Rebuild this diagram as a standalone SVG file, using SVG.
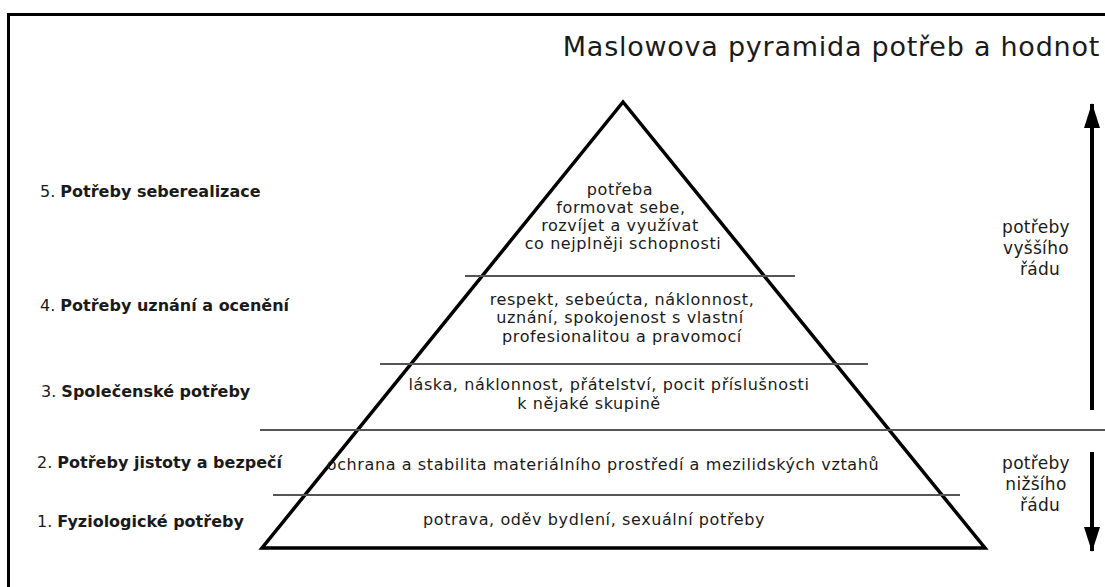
<svg xmlns="http://www.w3.org/2000/svg" width="1105" height="587" viewBox="0 0 1105 587">
<style>
.t{font-family:"DejaVu Sans","Verdana",sans-serif;fill:#1a1a1a}
.lvl{font-size:16px;text-anchor:middle;letter-spacing:0.6px}
.lab{font-size:16px}
.lab .b{font-weight:bold}
.side{font-size:17px;text-anchor:middle;letter-spacing:0.3px}
.sep{stroke:#555;stroke-width:2}
</style>
<defs>
<marker id="ah" viewBox="0 0 25 16" refX="24" refY="8" markerWidth="25" markerHeight="16" markerUnits="userSpaceOnUse" orient="auto">
<path d="M0,0 L25,8 L0,16 Z" fill="#000"/>
</marker>
</defs>
<rect x="0" y="0" width="1105" height="587" fill="#fff"/>
<rect id="frame" x="8.5" y="14.5" width="1120" height="600" fill="none" stroke="#000" stroke-width="3"/>
<text id="title" class="t" x="1100" y="56" font-size="27" text-anchor="end" letter-spacing="0.75">Maslowova pyramida potřeb a hodnot</text>

<g id="pyramid">
<polygon points="623,102 262,548 985,548" fill="none" stroke="#000" stroke-width="3.5" stroke-linejoin="miter"/>
</g>

<g id="separators">
<line class="sep" x1="465" y1="276" x2="795" y2="276"/>
<line class="sep" x1="380" y1="364" x2="868" y2="364"/>
<line class="sep" x1="260" y1="430" x2="1105" y2="430"/>
<line class="sep" x1="273" y1="495" x2="960" y2="495"/>
</g>

<g id="level5">
<text class="t lvl" x="620" y="195">potřeba</text>
<text class="t lvl" x="621" y="213">formovat sebe,</text>
<text class="t lvl" x="620" y="231">rozvíjet a využívat</text>
<text class="t lvl" x="623" y="249">co nejplněji schopnosti</text>
<text class="t lab" x="40" y="197">5. <tspan class="b">Potřeby seberealizace</tspan></text>
</g>
<g id="level4">
<text class="t lvl" x="622" y="305">respekt, sebeúcta,  náklonnost,</text>
<text class="t lvl" x="620" y="323">uznání, spokojenost s vlastní</text>
<text class="t lvl" x="622" y="342">profesionalitou a pravomocí</text>
<text class="t lab" x="40" y="311">4. <tspan class="b">Potřeby uznání a ocenění</tspan></text>
</g>
<g id="level3">
<text class="t lvl" x="609" y="390">láska, náklonnost, přátelství, pocit příslušnosti</text>
<text class="t lvl" x="589" y="409">k nějaké skupině</text>
<text class="t lab" x="41" y="397">3. <tspan class="b">Společenské potřeby</tspan></text>
</g>
<g id="level2">
<text class="t lvl" x="603" y="470">ochrana a stabilita materiálního prostředí a mezilidských vztahů</text>
<text class="t lab" x="37" y="468">2. <tspan class="b">Potřeby jistoty a bezpečí</tspan></text>
</g>
<g id="level1">
<text class="t lvl" x="594" y="525">potrava, oděv bydlení, sexuální potřeby</text>
<text class="t lab" x="37" y="527">1. <tspan class="b">Fyziologické potřeby</tspan></text>
</g>

<g id="higher">
<text class="t side" x="1036" y="233">potřeby</text>
<text class="t side" x="1036" y="254">vyššího</text>
<text class="t side" x="1040" y="275">řádu</text>
</g>
<g id="lower">
<text class="t side" x="1036" y="469">potřeby</text>
<text class="t side" x="1036" y="490">nižšího</text>
<text class="t side" x="1040" y="511">řádu</text>
</g>

<g id="connectors">
<line x1="1092" y1="410" x2="1092" y2="104" stroke="#000" stroke-width="4" marker-end="url(#ah)"/>
<line x1="1092" y1="452" x2="1092" y2="551" stroke="#000" stroke-width="4" marker-end="url(#ah)"/>
</g>
</svg>
